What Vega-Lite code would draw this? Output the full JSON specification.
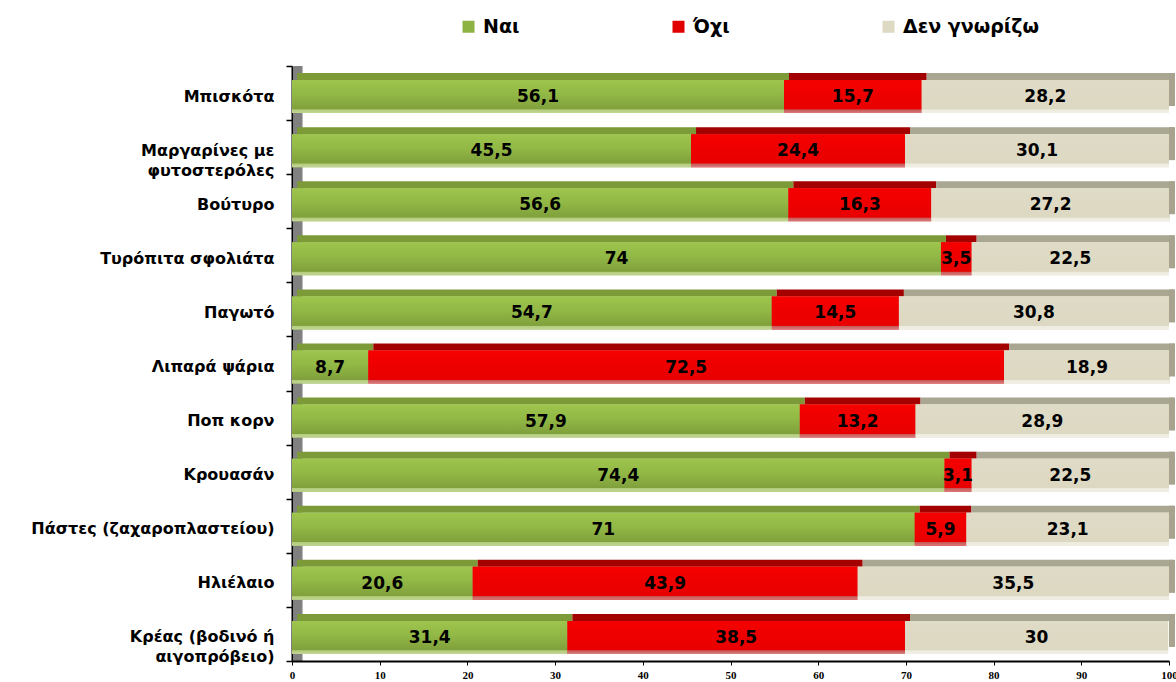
{
  "$schema": "https://vega.github.io/schema/vega-lite/v6.json",
  "width": 877,
  "height": 595,
  "autosize": {"type": "none"},
  "padding": {"left": 292, "top": 66, "right": 7, "bottom": 21},
  "background": "white",
  "config": {
    "view": {"stroke": null},
    "axisY": {
      "title": null,
      "zindex": 2,
      "domainColor": "#000000",
      "domainWidth": 2,
      "tickColor": "#000000",
      "tickWidth": 1.5,
      "tickSize": 6,
      "labelFont": "DejaVu Sans",
      "labelFontSize": 16,
      "labelFontWeight": "bold",
      "labelColor": "black",
      "labelPadding": 12,
      "labelOffset": 3,
      "labelLineHeight": 20,
      "labelLimit": 400
    },
    "locale": {"number": {"decimal": ",", "thousands": ".", "grouping": [3], "currency": ["", " €"]}}
  },
  "datasets": {
    "survey": [
      {"food": "Μπισκότα", "answer": "Ναι", "o": 1, "v": 56.1},
      {"food": "Μπισκότα", "answer": "Όχι", "o": 2, "v": 15.7},
      {"food": "Μπισκότα", "answer": "Δεν γνωρίζω", "o": 3, "v": 28.2},
      {"food": "Μαργαρίνες με\nφυτοστερόλες", "answer": "Ναι", "o": 1, "v": 45.5},
      {"food": "Μαργαρίνες με\nφυτοστερόλες", "answer": "Όχι", "o": 2, "v": 24.4},
      {"food": "Μαργαρίνες με\nφυτοστερόλες", "answer": "Δεν γνωρίζω", "o": 3, "v": 30.1},
      {"food": "Βούτυρο", "answer": "Ναι", "o": 1, "v": 56.6},
      {"food": "Βούτυρο", "answer": "Όχι", "o": 2, "v": 16.3},
      {"food": "Βούτυρο", "answer": "Δεν γνωρίζω", "o": 3, "v": 27.2},
      {"food": "Τυρόπιτα σφολιάτα", "answer": "Ναι", "o": 1, "v": 74},
      {"food": "Τυρόπιτα σφολιάτα", "answer": "Όχι", "o": 2, "v": 3.5},
      {"food": "Τυρόπιτα σφολιάτα", "answer": "Δεν γνωρίζω", "o": 3, "v": 22.5},
      {"food": "Παγωτό", "answer": "Ναι", "o": 1, "v": 54.7},
      {"food": "Παγωτό", "answer": "Όχι", "o": 2, "v": 14.5},
      {"food": "Παγωτό", "answer": "Δεν γνωρίζω", "o": 3, "v": 30.8},
      {"food": "Λιπαρά ψάρια", "answer": "Ναι", "o": 1, "v": 8.7},
      {"food": "Λιπαρά ψάρια", "answer": "Όχι", "o": 2, "v": 72.5},
      {"food": "Λιπαρά ψάρια", "answer": "Δεν γνωρίζω", "o": 3, "v": 18.9},
      {"food": "Ποπ κορν", "answer": "Ναι", "o": 1, "v": 57.9},
      {"food": "Ποπ κορν", "answer": "Όχι", "o": 2, "v": 13.2},
      {"food": "Ποπ κορν", "answer": "Δεν γνωρίζω", "o": 3, "v": 28.9},
      {"food": "Κρουασάν", "answer": "Ναι", "o": 1, "v": 74.4},
      {"food": "Κρουασάν", "answer": "Όχι", "o": 2, "v": 3.1},
      {"food": "Κρουασάν", "answer": "Δεν γνωρίζω", "o": 3, "v": 22.5},
      {"food": "Πάστες (ζαχαροπλαστείου)", "answer": "Ναι", "o": 1, "v": 71},
      {"food": "Πάστες (ζαχαροπλαστείου)", "answer": "Όχι", "o": 2, "v": 5.9},
      {"food": "Πάστες (ζαχαροπλαστείου)", "answer": "Δεν γνωρίζω", "o": 3, "v": 23.1},
      {"food": "Ηλιέλαιο", "answer": "Ναι", "o": 1, "v": 20.6},
      {"food": "Ηλιέλαιο", "answer": "Όχι", "o": 2, "v": 43.9},
      {"food": "Ηλιέλαιο", "answer": "Δεν γνωρίζω", "o": 3, "v": 35.5},
      {"food": "Κρέας (βοδινό ή\nαιγοπρόβειο)", "answer": "Ναι", "o": 1, "v": 31.4},
      {"food": "Κρέας (βοδινό ή\nαιγοπρόβειο)", "answer": "Όχι", "o": 2, "v": 38.5},
      {"food": "Κρέας (βοδινό ή\nαιγοπρόβειο)", "answer": "Δεν γνωρίζω", "o": 3, "v": 30}
    ]
  },
  "layer": [
    {
      "data": {"values": [{}]},
      "mark": {"type": "rect", "color": "#808080"},
      "encoding": {
        "x": {"datum": 0.15, "type": "quantitative"},
        "x2": {"datum": 1.2}
      }
    },
    {
      "data": {"name": "survey"},
      "mark": {"type": "bar", "height": 7, "yOffset": -16.5, "xOffset": 5},
      "encoding": {
        "y": {"field": "food", "type": "nominal", "sort": null, "scale": {"paddingInner": 0, "paddingOuter": 0}, "axis": {"domain": true, "ticks": true, "tickBand": "extent", "labelExpr": "split(datum.label, '\\n')"}},
        "x": {"field": "v", "type": "quantitative", "stack": "zero"},
        "order": {"field": "o"},
        "detail": {"field": "answer"},
        "fill": {
          "condition": [
            {"test": "datum.answer === 'Ναι'", "value": "#7D9A39"},
            {"test": "datum.answer === 'Όχι'", "value": "#A30000"}
          ],
          "value": "#A9A692"
        }
      }
    },
    {
      "data": {"name": "survey"},
      "mark": {"type": "bar", "height": 33, "yOffset": 3.5},
      "encoding": {
        "y": {"field": "food", "type": "nominal", "sort": null, "axis": {"domain": true, "ticks": true, "tickBand": "extent", "labelExpr": "split(datum.label, '\\n')"}},
        "x": {
          "field": "v",
          "type": "quantitative",
          "stack": "zero",
          "scale": {"domain": [0, 100], "nice": false},
          "axis": {
            "title": null,
            "zindex": 2,
            "values": [0, 10, 20, 30, 40, 50, 60, 70, 80, 90, 100],
            "grid": false,
            "domainColor": "black",
            "domainWidth": 2,
            "tickColor": "black",
            "tickSize": 4,
            "labelFont": "Liberation Serif",
            "labelFontSize": 11,
            "labelFontWeight": "bold",
            "labelColor": "black",
            "labelPadding": 4,
            "labelFlush": false,
            "labelOverlap": false
          }
        },
        "order": {"field": "o"},
        "color": {
          "field": "answer",
          "type": "nominal",
          "scale": {
            "domain": ["Ναι", "Όχι", "Δεν γνωρίζω"],
            "range": ["#8DB343", "#E00000", "#DDD9C3"]
          },
          "legend": {
            "title": null,
            "orient": "none",
            "legendX": 167,
            "legendY": -49,
            "direction": "horizontal",
            "columns": 3,
            "gridAlign": "all",
            "columnPadding": 50,
            "padding": 0,
            "symbolType": "square",
            "symbolSize": 144,
            "symbolStrokeWidth": 0,
            "symbolOffset": 0,
            "labelOffset": 5,
            "labelFont": "DejaVu Sans",
            "labelFontSize": 19,
            "labelFontWeight": "bold",
            "labelColor": "black",
            "labelLimit": 300
          }
        }
      }
    },
    {
      "data": {"name": "survey"},
      "mark": {"type": "bar", "height": 33, "yOffset": 3.5},
      "encoding": {
        "y": {"field": "food", "type": "nominal", "sort": null, "axis": {"domain": true, "ticks": true, "tickBand": "extent", "labelExpr": "split(datum.label, '\\n')"}},
        "x": {"field": "v", "type": "quantitative", "stack": "zero"},
        "order": {"field": "o"},
        "detail": {"field": "answer"},
        "fill": {
          "condition": [
            {"test": "datum.answer === 'Ναι'", "value": {"gradient": "linear", "x1": 0, "y1": 0, "x2": 0, "y2": 1, "stops": [
              {"offset": 0, "color": "#9EC54D"},
              {"offset": 0.45, "color": "#91B745"},
              {"offset": 0.88, "color": "#80A03C"},
              {"offset": 0.9, "color": "#B3CC7C"},
              {"offset": 1, "color": "#C2D695"}
            ]}},
            {"test": "datum.answer === 'Όχι'", "value": {"gradient": "linear", "x1": 0, "y1": 0, "x2": 0, "y2": 1, "stops": [
              {"offset": 0, "color": "#F50000"},
              {"offset": 0.88, "color": "#E80000"},
              {"offset": 0.9, "color": "#C85858"},
              {"offset": 1, "color": "#D87E7E"}
            ]}}
          ],
          "value": {"gradient": "linear", "x1": 0, "y1": 0, "x2": 0, "y2": 1, "stops": [
            {"offset": 0, "color": "#DFDBC6"},
            {"offset": 0.88, "color": "#DCD8C2"},
            {"offset": 0.9, "color": "#EDEBDE"},
            {"offset": 1, "color": "#F2F0E6"}
          ]}
        }
      }
    },
    {
      "data": {"name": "survey"},
      "transform": [{"filter": "datum.o === 3"}],
      "mark": {"type": "tick", "thickness": 6, "size": 33, "xOffset": 3, "yOffset": -3.5, "color": "#A7A38E", "opacity": 1},
      "encoding": {
        "y": {"field": "food", "type": "nominal", "sort": null, "axis": {"domain": true, "ticks": true, "tickBand": "extent", "labelExpr": "split(datum.label, '\\n')"}},
        "x": {"datum": 100, "type": "quantitative"}
      }
    },
    {
      "data": {"name": "survey"},
      "mark": {"type": "text", "font": "DejaVu Sans", "fontSize": 17, "fontWeight": "bold", "color": "black", "baseline": "middle", "align": "center", "yOffset": 4},
      "encoding": {
        "y": {"field": "food", "type": "nominal", "sort": null, "axis": {"domain": true, "ticks": true, "tickBand": "extent", "labelExpr": "split(datum.label, '\\n')"}},
        "x": {"field": "v", "type": "quantitative", "stack": "zero", "bandPosition": 0.5},
        "order": {"field": "o"},
        "detail": {"field": "answer"},
        "text": {"field": "v", "type": "quantitative", "format": "~g"}
      }
    }
  ]
}
